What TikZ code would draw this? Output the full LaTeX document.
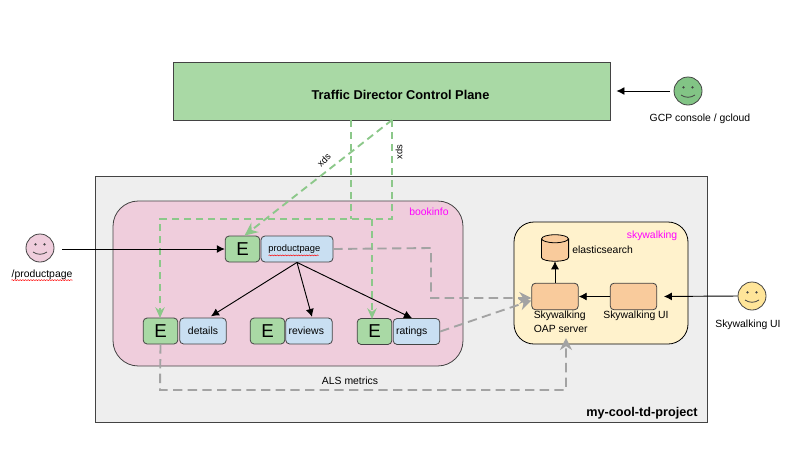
\documentclass[tikz,border=0pt]{standalone}
\usepackage{fontspec}
\setmainfont{Liberation Sans}
\usetikzlibrary{arrows.meta,decorations.pathmorphing}
\definecolor{lineC}{HTML}{434343}
\definecolor{planeC}{HTML}{A9D9A5}
\definecolor{blueC}{HTML}{C9DFF2}
\definecolor{pinkC}{HTML}{EFCDDC}
\definecolor{sandC}{HTML}{FFF2CC}
\definecolor{orangeC}{HTML}{F9CB9C}
\definecolor{grayC}{HTML}{EEEEEE}
\definecolor{xdsC}{HTML}{8CC88A}
\definecolor{alsC}{HTML}{A3A3A3}
\definecolor{faceY}{HTML}{FFE599}
\definecolor{faceG}{HTML}{82C485}
\definecolor{tagC}{HTML}{FF00FF}
\tikzset{
	lbl/.style={font=\fontsize{7.8}{9.6}\selectfont, inner sep=0pt, align=left},
	plainbox/.style={draw=lineC, line width=0.6pt, minimum height=19.5pt, inner sep=0pt, rounded corners=3pt},
	envoy/.style={plainbox, fill=planeC, minimum width=26pt, font=\fontsize{14}{16}\selectfont},
	svc/.style={plainbox, fill=blueC, font=\fontsize{7.8}{9.6}\selectfont},
	oap/.style={plainbox, fill=orangeC, minimum width=35pt, minimum height=20pt},
	face/.style={circle, draw=lineC, line width=0.6pt, minimum size=21pt, inner sep=0pt},
	call/.style={-{Latex[length=6pt,width=6pt]}, line width=0.7pt, black},
	xds/.style={draw=xdsC, dash pattern=on 5.5pt off 3.5pt, line width=1.4pt, -{Stealth[length=8pt,width=7pt]}},
	als/.style={draw=alsC, dash pattern=on 7pt off 4pt, line width=1.4pt, -{Stealth[length=9pt,width=9pt]}},
	squiggle/.style={draw=red, line width=0.35pt, decorate, decoration={snake,amplitude=0.4pt,segment length=2pt}}
}
% smiley inside a named circle
\newcommand{\smiley}[1]{
	\fill[lineC] (#1.center) ++(-4.5,-3.7) circle (1.3);
	\fill[lineC] (#1.center) ++(4.5,-3.7) circle (1.3);
	\draw[lineC, line width=0.6pt] (#1.center) ++(-7,4) .. controls +(4,3) and +(-4,3) .. +(14,0);
}
\begin{document}
\begin{tikzpicture}[x=0.75pt, y=-0.75pt]
	\useasboundingbox (0,0) rectangle (794,458);
	\fill[white] (0,0) rectangle (794,458);

	% frames
	\node[draw=lineC, line width=0.6pt, fill=grayC, minimum width=459pt, minimum height=184.5pt, inner sep=0pt] (project) at (401,299) {};
	\node[draw=lineC, line width=0.6pt, fill=pinkC, rounded corners=19pt, minimum width=262.5pt, minimum height=123.75pt, inner sep=0pt] (bookinfo) at (288,283.5) {};
	\node[draw=black, line width=0.6pt, fill=sandC, rounded corners=15pt, minimum width=130.5pt, minimum height=91.5pt, inner sep=0pt] (skywalking) at (601,283) {};
	\node[draw=lineC, line width=0.7pt, fill=planeC, minimum width=327.75pt, minimum height=43.5pt, inner sep=0pt] (plane) at (391.5,91) {};
	\node[lbl, font=\fontsize{9.6}{11}\selectfont\bfseries] (planename) at (400.5,95) {Traffic Director Control Plane};

	\node[lbl, font=\fontsize{9.5}{11}\selectfont\bfseries] (projectname) at (642,413) {my-cool-td-project};
	\node[lbl, text=tagC] (bookinfoname) at (429,212) {bookinfo};
	\node[lbl, text=tagC] (skywalkingname) at (652,236) {skywalking};

	% workloads
	\node[envoy] (eproduct) at (242.5,249) {E};
	\node[svc, minimum width=54pt, font=\fontsize{7}{9}\selectfont] (productpage) at (297,249) {\hspace*{-4pt}productpage};
	\node[envoy] (edetails) at (160.5,331) {E};
	\node[svc, minimum width=35pt] (details) at (203,331) {details};
	\node[envoy] (ereviews) at (267.5,331) {E};
	\node[svc, minimum width=35pt] (reviews) at (309,331) {\hspace*{-4pt}\raisebox{-3pt}{reviews}};
	\node[envoy] (eratings) at (374.5,331.5) {E};
	\node[svc, minimum width=35pt] (ratings) at (416.5,331.5) {\hspace*{-7pt}\raisebox{-2.5pt}{ratings}};

	% skywalking parts
	\node[minimum width=20pt, minimum height=19.5pt, inner sep=0pt] (es) at (555,248) {};
	\draw[draw=black, line width=0.6pt, fill=orangeC] ([yshift=-3pt]es.north west) -- ([yshift=3pt]es.south west) .. controls +(0pt,-4pt) and +(0pt,-4pt) .. ([yshift=3pt]es.south east) -- ([yshift=-3pt]es.north east);
	\draw[draw=black, line width=0.6pt, fill=orangeC] ([yshift=-3pt]es.north) ellipse [x radius=13.33, y radius=4];
	\node[lbl, anchor=west] (eslabel) at (572,250) {elasticsearch};
	\node[oap] (oapbox) at (555,296.5) {};
	\node[oap] (uibox) at (633.5,296.5) {};
	\node[lbl, anchor=north west] (oaplabel) at (533.5,311) {Skywalking\\[0.5pt]OAP server};
	\node[lbl, anchor=north] (uilabel) at (636,311) {Skywalking UI};

	% people
	\node[face, fill=pinkC] (user) at (40,248) {};
	\smiley{user}
	\node[lbl] (userlabel) at (42,275) {/productpage};
	\node[face, fill=faceG] (gcp) at (688,91) {};
	\smiley{gcp}
	\node[lbl] (gcplabel) at (700,119) {GCP console / gcloud};
	\node[face, fill=faceY] (skyuser) at (752,296) {};
	\smiley{skyuser}
	\node[lbl] (skyuserlabel) at (748,325) {Skywalking UI};

	% spell check marks
	\draw[squiggle] (userlabel.south west) -- (userlabel.south east);
	\draw[squiggle] (productpage.south west) ++(8,-7) -- ++(50,0);

	% points for the routed lines
	\coordinate (xdsA) at (351,120);
	\coordinate (xdsB) at (392,120);
	\coordinate (xdsleft) at (160,219);
	\coordinate (xdsright) at (392,219);
	\coordinate (xdsfork) at (351,219);
	\coordinate (xdsdrop) at (372,219);
	\coordinate (logbend) at (431,248);
	\coordinate (logdown) at (431,298);
	\coordinate (alsdown) at (160,390);
	\coordinate (alsright) at (566,390);
	\coordinate (alsend) at (566,338);
	\coordinate (ratingsend) at (372,319);
	\coordinate (detailsend) at (160,318);

	% green config lines
	\draw[xds, -] (xdsA) -- (xdsfork);
	\draw[xds] (xdsB) -- (xdsright) -- (xdsleft) -- (detailsend);
	\draw[xds] (xdsdrop) -- (ratingsend);
	\draw[xds, -{Stealth[length=10pt,width=9pt]}] (xdsB) -- ([xshift=1.5pt]eproduct.north);
	\node[lbl, rotate=45, font=\fontsize{7}{9}\selectfont] (xdstagA) at (324,160) {xds};
	\node[lbl, rotate=90, font=\fontsize{7}{9}\selectfont] (xdstagB) at (399,152) {xds};

	% grey telemetry lines
	\draw[als] (productpage.east) -- (logbend) -- (logdown) -- (oapbox.west |- logdown);
	\draw[als] (ratings.east) -- ([yshift=-3pt]oapbox.west);
	\draw[als] (edetails.south) -- (alsdown) -- (alsright) -- (alsend);
	\node[lbl] (alslabel) at (350,381) {ALS metrics};

	% black calls
	\draw[call, shorten <=6pt] (user.east |- eproduct.west) -- (eproduct.west);
	\draw[call] (productpage.south) -- ([xshift=6pt,yshift=1pt]details.north);
	\draw[call] (productpage.south) -- ([xshift=2.25pt,yshift=0.5pt]reviews.north);
	\draw[call] (productpage.south) -- ([xshift=-3.4pt]ratings.north);
	\draw[call] (oapbox.north) -- (es.south);
	\draw[call] (uibox.west) -- (oapbox.east);
	\draw[call, shorten >=5pt] (skyuser.west) -- (uibox.east);
	\draw[call, shorten <=3pt, shorten >=4.5pt] (gcp.west) -- (plane.east |- gcp.west);
\end{tikzpicture}
\end{document}
